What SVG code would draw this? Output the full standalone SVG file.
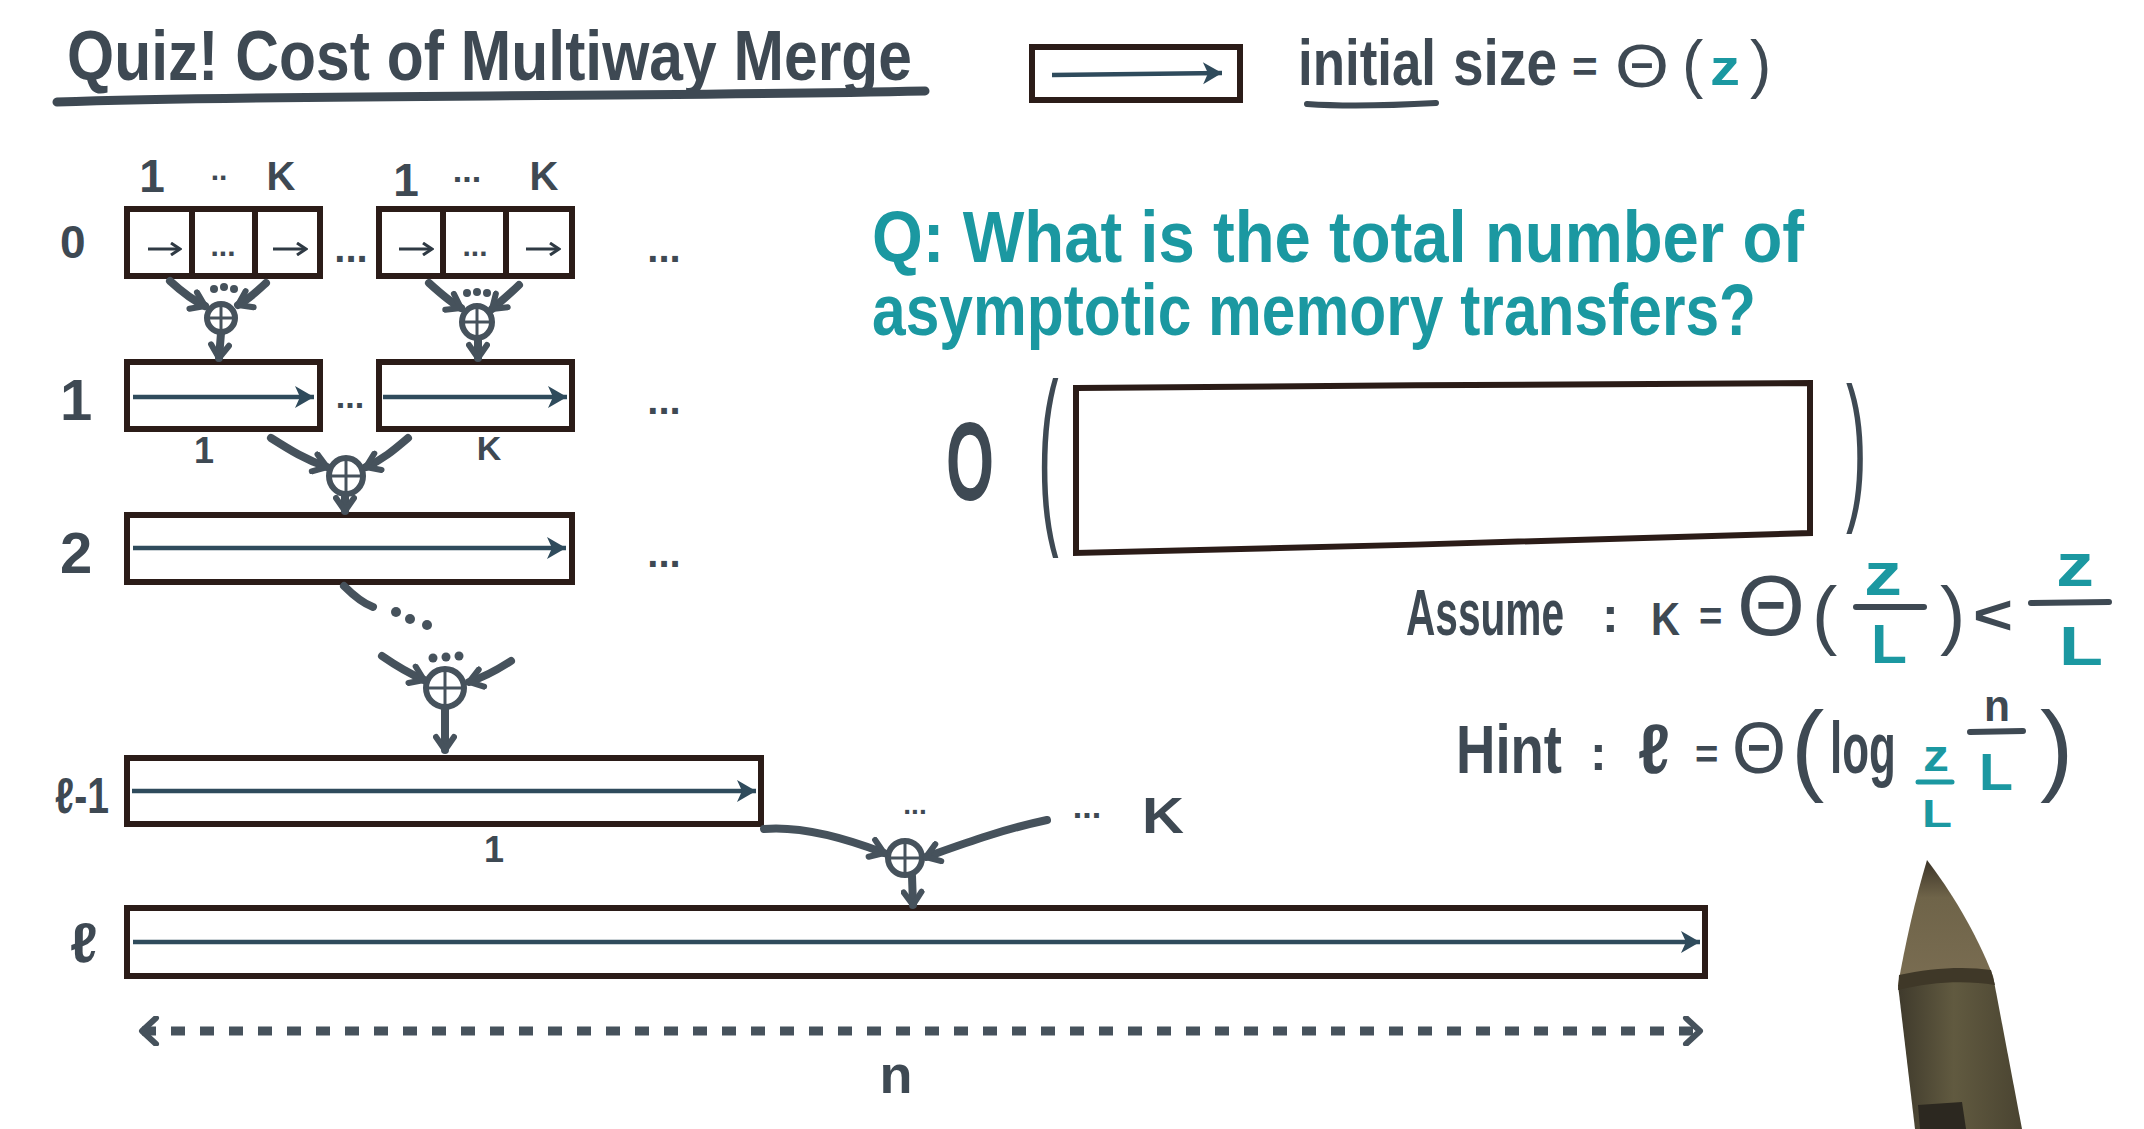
<svg xmlns="http://www.w3.org/2000/svg" width="2144" height="1129" viewBox="0 0 2144 1129">
<defs>
<style>
.hw{font-family:"Liberation Sans","DejaVu Sans",sans-serif;fill:#3e4953;font-weight:bold;}
.lt{font-weight:normal;}
.tl{fill:#1b98a1;}
.box{fill:#ffffff;stroke:#2b1c18;stroke-width:6;}
.div{stroke:#2b1c18;stroke-width:6;}
.ia{stroke:#2f4b5c;stroke-width:4.5;fill:none;marker-end:url(#bh);}
.ca{stroke:#2f3a44;stroke-width:3;fill:none;marker-end:url(#ch);}
.cn{stroke:#46525c;stroke-width:8;fill:none;stroke-linecap:round;marker-end:url(#vh);}
.cs{stroke:#46525c;stroke-width:8;fill:none;stroke-linecap:round;}
.mg{fill:none;stroke:#46525c;stroke-width:6;}
.mx{stroke:#46525c;stroke-width:3;}
.dot{fill:#46525c;}
.bar{stroke:#3e4953;stroke-width:6;stroke-linecap:round;}
.bart{stroke:#1b98a1;stroke-width:5;stroke-linecap:round;}
</style>
<marker id="vh" viewBox="0 0 24 24" refX="18" refY="12" markerWidth="24" markerHeight="24" markerUnits="userSpaceOnUse" orient="auto"><path d="M5,3 L18,12 L5,21" fill="none" stroke="#46525c" stroke-width="6" stroke-linecap="round" stroke-linejoin="round"/></marker>
<marker id="bh" viewBox="0 0 24 24" refX="22" refY="12" markerWidth="24" markerHeight="24" markerUnits="userSpaceOnUse" orient="auto"><path d="M3,1 L22,12 L3,23 L8,12 Z" fill="#2f4b5c"/></marker>
<marker id="ch" viewBox="0 0 14 14" refX="12" refY="7" markerWidth="14" markerHeight="14" markerUnits="userSpaceOnUse" orient="auto"><path d="M3,1 L12,7 L3,13" fill="none" stroke="#2f3a44" stroke-width="3"/></marker>
<marker id="dh" viewBox="0 0 30 30" refX="24" refY="15" markerWidth="30" markerHeight="30" markerUnits="userSpaceOnUse" orient="auto-start-reverse"><path d="M10,2 L24,15 L10,28" fill="none" stroke="#46525c" stroke-width="6" stroke-linecap="round" stroke-linejoin="round"/></marker>
<linearGradient id="penG" x1="0" y1="0" x2="1" y2="0"><stop offset="0" stop-color="#3f3a2c"/><stop offset="0.45" stop-color="#615a40"/><stop offset="1" stop-color="#4a4431"/></linearGradient>
<linearGradient id="tipG" x1="0" y1="0" x2="0" y2="1"><stop offset="0" stop-color="#3c3428"/><stop offset="0.3" stop-color="#6f6449"/><stop offset="1" stop-color="#7a6d52"/></linearGradient>
</defs>
<rect width="2144" height="1129" fill="#ffffff"/>

<g id="title">
<text class="hw" x="67" y="80" font-size="70" textLength="845" lengthAdjust="spacingAndGlyphs">Quiz! Cost of Multiway Merge</text>
<path d="M57,102 C300,94 600,98 925,91" stroke="#3e4953" stroke-width="9" fill="none" stroke-linecap="round"/>
</g>

<g id="legend">
<rect class="box" x="1032" y="47" width="208" height="53"/>
<line class="ia" x1="1052" y1="75" x2="1222" y2="73" stroke-width="7"/>
<text class="hw" x="1298" y="85" font-size="64" textLength="138" lengthAdjust="spacingAndGlyphs">initial</text>
<path d="M1307,104 C1350,107 1400,105 1436,103" stroke="#3e4953" stroke-width="6" fill="none" stroke-linecap="round"/>
<text class="hw" x="1453" y="85" font-size="64" textLength="104" lengthAdjust="spacingAndGlyphs">size</text>
<text class="hw" x="1572" y="82" font-size="44">=</text>
<text class="hw lt" x="1615" y="87" font-size="62" textLength="54" lengthAdjust="spacingAndGlyphs">Θ</text>
<text class="hw lt" x="1682" y="86" font-size="64">(</text>
<text class="hw tl" x="1710" y="85" font-size="50" textLength="30" lengthAdjust="spacingAndGlyphs">z</text>
<text class="hw lt" x="1750" y="86" font-size="64">)</text>
</g>

<g id="levels" class="hw">
<text x="60" y="258" font-size="46">0</text>
<text x="60" y="420" font-size="58">1</text>
<text x="60" y="573" font-size="58">2</text>
<text x="55" y="813" font-size="50" textLength="54" lengthAdjust="spacingAndGlyphs">ℓ-1</text>
<text x="70" y="962" font-size="56">ℓ</text>
</g>

<g id="row0">
<g id="row0-runA">
<rect class="box" x="127" y="209" width="193" height="67"/>
<line class="div" x1="192" y1="209" x2="192" y2="276"/>
<line class="div" x1="255" y1="209" x2="255" y2="276"/>
<line class="ca" x1="148" y1="249" x2="180" y2="249"/>
<text class="hw" x="223" y="256" font-size="30" text-anchor="middle" fill="#2f3a44">...</text>
<line class="ca" x1="273" y1="249" x2="306" y2="249"/>
</g>
<g id="row0-runB">
<rect class="box" x="379" y="209" width="193" height="67"/>
<line class="div" x1="443" y1="209" x2="443" y2="276"/>
<line class="div" x1="506" y1="209" x2="506" y2="276"/>
<line class="ca" x1="399" y1="249" x2="432" y2="249"/>
<text class="hw" x="475" y="256" font-size="30" text-anchor="middle" fill="#2f3a44">...</text>
<line class="ca" x1="526" y1="249" x2="559" y2="249"/>
</g>
<text class="hw" x="351" y="262" font-size="40" text-anchor="middle">...</text>
<text class="hw" x="664" y="262" font-size="40" text-anchor="middle">...</text>
<g id="row0-labels" class="hw">
<text x="152" y="192" font-size="46" text-anchor="middle">1</text>
<text x="219" y="180" font-size="30" text-anchor="middle">..</text>
<text x="281" y="190" font-size="40" text-anchor="middle">K</text>
<text x="406" y="196" font-size="46" text-anchor="middle">1</text>
<text x="467" y="182" font-size="34" text-anchor="middle">...</text>
<text x="544" y="190" font-size="40" text-anchor="middle">K</text>
</g>
</g>

<g id="merge0A">
<ellipse class="mg" cx="221" cy="318" rx="14" ry="14"/>
<line class="mx" x1="207" y1="318" x2="235" y2="318"/><line class="mx" x1="221" y1="304" x2="221" y2="332"/>
<circle class="dot" cx="214" cy="289" r="4"/><circle class="dot" cx="224" cy="287" r="4"/><circle class="dot" cx="234" cy="289" r="4"/>
</g>
<g id="merge0B">
<ellipse class="mg" cx="477" cy="322" rx="15" ry="16"/>
<line class="mx" x1="462" y1="322" x2="492" y2="322"/><line class="mx" x1="477" y1="306" x2="477" y2="338"/>
<circle class="dot" cx="467" cy="293" r="4"/><circle class="dot" cx="477" cy="292" r="4"/><circle class="dot" cx="487" cy="293" r="4"/>
</g>

<g id="row1">
<rect class="box" x="127" y="362" width="193" height="67"/>
<line class="ia" x1="133" y1="397" x2="314" y2="397"/>
<rect class="box" x="379" y="362" width="193" height="67"/>
<line class="ia" x1="383" y1="397" x2="567" y2="397"/>
<text class="hw" x="350" y="408" font-size="34" text-anchor="middle">...</text>
<text class="hw" x="664" y="414" font-size="40" text-anchor="middle">...</text>
<text class="hw" x="204" y="463" font-size="36" text-anchor="middle">1</text>
<text class="hw" x="489" y="460" font-size="34" text-anchor="middle">K</text>
</g>

<g id="merge1">
<ellipse class="mg" cx="346" cy="476" rx="17" ry="18"/>
<line class="mx" x1="329" y1="476" x2="363" y2="476"/><line class="mx" x1="346" y1="458" x2="346" y2="494"/>
</g>

<g id="row2">
<rect class="box" x="127" y="515" width="445" height="67"/>
<line class="ia" x1="133" y1="548" x2="566" y2="548"/>
<text class="hw" x="664" y="567" font-size="40" text-anchor="middle">...</text>
</g>

<g id="merge2">
<ellipse class="mg" cx="445" cy="688" rx="19" ry="19"/>
<line class="mx" x1="426" y1="688" x2="464" y2="688"/><line class="mx" x1="445" y1="669" x2="445" y2="707"/>
<circle class="dot" cx="433" cy="658" r="4.5"/><circle class="dot" cx="446" cy="657" r="4.5"/><circle class="dot" cx="459" cy="656" r="4.5"/>
<circle class="dot" cx="396" cy="612" r="5"/><circle class="dot" cx="410" cy="619" r="5"/><circle class="dot" cx="427" cy="625" r="5"/>
</g>

<g id="rowL1">
<rect class="box" x="127" y="758" width="634" height="66"/>
<line class="ia" x1="132" y1="791" x2="756" y2="791"/>
<text class="hw" x="494" y="862" font-size="36" text-anchor="middle">1</text>
</g>

<g id="mergeL">
<ellipse class="mg" cx="905" cy="858" rx="17" ry="17"/>
<line class="mx" x1="888" y1="858" x2="922" y2="858"/><line class="mx" x1="905" y1="841" x2="905" y2="875"/>
<text class="hw" x="915" y="814" font-size="28" text-anchor="middle" fill="#2f3a44">...</text>
<text class="hw" x="1087" y="818" font-size="34" text-anchor="middle">...</text>
<text class="hw" x="1163" y="833" font-size="50" text-anchor="middle" textLength="42" lengthAdjust="spacingAndGlyphs">K</text>
</g>

<g id="rowL">
<rect class="box" x="127" y="908" width="1578" height="68"/>
<line class="ia" x1="133" y1="942" x2="1700" y2="942"/>
</g>

<g id="connectors">
<path class="cn" d="M170,281 C182,292 192,300 205,306"/>
<path class="cn" d="M266,283 C256,292 248,300 238,305"/>
<path class="cn" d="M221,333 L219,358"/>
<path class="cn" d="M429,283 C440,293 450,302 461,308"/>
<path class="cn" d="M519,285 C510,294 500,302 492,309"/>
<path class="cn" d="M478,339 L478,358"/>
<path class="cn" d="M271,438 C290,450 306,460 327,467"/>
<path class="cn" d="M408,438 C394,450 382,460 366,467"/>
<path class="cn" d="M345,495 L345,511"/>
<path class="cs" d="M344,586 C352,594 362,603 373,607"/>
<path class="cn" d="M382,656 C395,665 408,673 424,680"/>
<path class="cn" d="M511,661 C497,670 485,677 469,682"/>
<path class="cn" d="M445,708 L445,750"/>
<path class="cn" d="M764,829 C800,826 845,838 884,853"/>
<path class="cn" d="M1047,820 C1000,830 960,845 926,857"/>
<path class="cn" d="M912,876 L913,905"/>
<line x1="142" y1="1031" x2="1700" y2="1031" stroke="#46525c" stroke-width="9" stroke-dasharray="14 15" marker-start="url(#dh)" marker-end="url(#dh)"/>
</g>
<text class="hw" x="896" y="1093" font-size="54" text-anchor="middle">n</text>

<g id="question" class="hw tl">
<text x="872" y="262" font-size="72" textLength="932" lengthAdjust="spacingAndGlyphs">Q: What is the total number of</text>
<text x="872" y="335" font-size="72" textLength="884" lengthAdjust="spacingAndGlyphs">asymptotic memory transfers?</text>
</g>

<g id="answer">
<text class="hw" x="946" y="500" font-size="112" textLength="48" lengthAdjust="spacingAndGlyphs">O</text>
<text class="hw lt" transform="translate(1038,518) scale(1,3.1)" font-size="62">(</text>
<path d="M1076,388 C1300,386 1600,384 1810,383 L1810,533 C1600,540 1300,548 1076,553 Z" fill="#ffffff" stroke="#2b1c18" stroke-width="6"/>
<text class="hw lt" transform="translate(1846,500) scale(1,2.6)" font-size="62">)</text>
</g>

<g id="assume" class="hw">
<text transform="translate(1406,635) scale(0.635,1)" font-size="64">Assume</text>
<text x="1602" y="632" font-size="50">:</text>
<text x="1651" y="635" font-size="46" textLength="29" lengthAdjust="spacingAndGlyphs">K</text>
<text x="1699" y="630" font-size="40">=</text>
<text class="lt" x="1737" y="635" font-size="86" textLength="68" lengthAdjust="spacingAndGlyphs">Θ</text>
<text class="lt" x="1812" y="640" font-size="76">(</text>
<text class="tl" x="1883" y="595" font-size="62" text-anchor="middle" textLength="38" lengthAdjust="spacingAndGlyphs">z</text>
<line class="bar" x1="1856" y1="607" x2="1924" y2="607"/>
<text class="tl" x="1889" y="663" font-size="56" text-anchor="middle" textLength="36" lengthAdjust="spacingAndGlyphs">L</text>
<text class="lt" x="1940" y="640" font-size="76">)</text>
<text x="1973" y="634" font-size="56" textLength="40" lengthAdjust="spacingAndGlyphs">&lt;</text>
<text class="tl" x="2075" y="586" font-size="62" text-anchor="middle" textLength="38" lengthAdjust="spacingAndGlyphs">z</text>
<line class="bar" x1="2031" y1="603" x2="2109" y2="602"/>
<text class="tl" x="2081" y="665" font-size="56" text-anchor="middle" textLength="44" lengthAdjust="spacingAndGlyphs">L</text>
</g>

<g id="hint" class="hw">
<text x="1456" y="773" font-size="68" textLength="106" lengthAdjust="spacingAndGlyphs">Hint</text>
<text x="1590" y="770" font-size="50">:</text>
<text x="1638" y="773" font-size="70" textLength="32" lengthAdjust="spacingAndGlyphs">ℓ</text>
<text x="1695" y="768" font-size="40">=</text>
<text class="lt" x="1732" y="773" font-size="72" textLength="54" lengthAdjust="spacingAndGlyphs">Θ</text>
<text class="lt" x="1791" y="782" font-size="100">(</text>
<text transform="translate(1830,773) scale(0.61,1)" font-size="72">log</text>
<text class="tl" x="1936" y="771" font-size="44" text-anchor="middle" textLength="26" lengthAdjust="spacingAndGlyphs">z</text>
<line class="bart" x1="1918" y1="782" x2="1952" y2="782"/>
<text class="tl" x="1937" y="827" font-size="38" text-anchor="middle" textLength="30" lengthAdjust="spacingAndGlyphs">L</text>
<text x="1997" y="721" font-size="44" text-anchor="middle" textLength="26" lengthAdjust="spacingAndGlyphs">n</text>
<line class="bar" x1="1970" y1="732" x2="2023" y2="731"/>
<text class="tl" x="1996" y="790" font-size="52" text-anchor="middle" textLength="34" lengthAdjust="spacingAndGlyphs">L</text>
<text class="lt" x="2040" y="782" font-size="100">)</text>
</g>

<g id="pen">
<path d="M1898,985 L1993,976 L2022,1129 L1915,1129 Z" fill="url(#penG)"/>
<path d="M1927,860 C1915,900 1905,945 1898,985 L1993,976 C1975,930 1950,890 1927,860 Z" fill="url(#tipG)"/>
<path d="M1899,975 C1930,968 1965,966 1991,970 L1995,985 C1965,980 1930,982 1898,990 Z" fill="#3f3828"/>
<path d="M1918,1105 L1962,1102 L1966,1129 L1920,1129 Z" fill="#2c2820"/>
</g>
</svg>
